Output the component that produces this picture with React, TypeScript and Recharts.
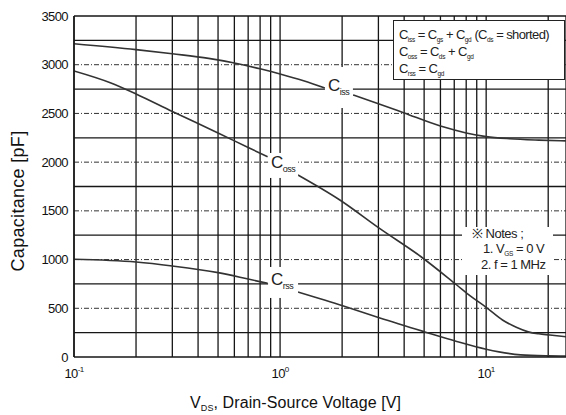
import React from 'react'
import {
  LineChart,
  Line,
  XAxis,
  YAxis,
  CartesianGrid,
  ReferenceLine,
  ReferenceDot,
} from 'recharts'

// V_DS [V] and capacitance [pF] (null = gap under the curve label)
const cissV = [0.1, 0.2, 0.3, 0.45, 0.6, 0.8, 1.0, 1.3, 1.65, 1.95, 2.26, 3.0, 4.0, 6.0, 8.0, 10, 13, 18, 24.4]
const cissC = [3215, 3155, 3112, 3065, 3018, 2958, 2905, 2835, 2760, null, 2690, 2600, 2505, 2370, 2300, 2262, 2240, 2226, 2218]

const cossV = [0.1, 0.15, 0.2, 0.3, 0.5, 0.7, 0.87, 1.05, 1.22, 1.95, 3.05, 4.83, 7.2, 8.4, 10, 12, 14, 16, 18, 20.4, 24.4]
const cossC = [2936, 2815, 2700, 2520, 2300, 2150, 2056, null, 1868, 1611, 1317, 1029, 739, 625, 510, 380, 305, 258, 238, 226, 208]

const crssV = [0.1, 0.2, 0.3, 0.5, 0.7, 0.87, 1.05, 1.22, 2.03, 3.05, 5.0, 7.2, 10, 14.7, 20, 24.4]
const crssC = [1003, 975, 934, 866, 800, 756, null, 667, 523, 400, 260, 160, 80, 22, 12, 10]

const xTicks = [
  0.1, 0.2, 0.3, 0.4, 0.5, 0.6, 0.7, 0.8, 0.9,
  1, 2, 3, 4, 5, 6, 7, 8, 9,
  10, 20,
]
const xDecades: Record<number, string> = { 0.1: '-1', 1: '0', 10: '1' }
const yMajor = [0, 500, 1000, 1500, 2000, 2500, 3000, 3500]
const yMinor = [250, 750, 1250, 1750, 2250, 2750, 3250]

const toPoints = (v: number[], c: (number | null)[]) => v.map((x, i) => ({ v: x, c: c[i] }))

// curve name labels, anchored in data space
const curveLabels = [
  { main: 'C', sub: 'iss', v: 1.93, c: 2766, w: 28, h: 41 },
  { main: 'C', sub: 'oss', v: 1.034, c: 1966, w: 30, h: 25 },
  { main: 'C', sub: 'rss', v: 1.034, c: 765, w: 30, h: 31 },
]

const FONT = '"Liberation Sans", Arial, sans-serif'
const GRID = '#161616'
const CURVE = '#333'

function XTick({ x, y, payload }: any) {
  const exp = xDecades[payload.value]
  if (exp === undefined) return null
  return (
    <text x={x} y={y + 21} textAnchor="middle" fontSize={13} fontFamily={FONT} fill="#111" letterSpacing={-0.6}>
      10
      <tspan dy={-6} fontSize={8}>{exp}</tspan>
    </text>
  )
}

function CurveLabel({ cx, cy, spec }: any) {
  if (cx == null || cy == null) return null
  return (
    <g>
      <rect x={cx - spec.w / 2} y={cy - spec.h / 2} width={spec.w} height={spec.h} fill="#fff" />
      <text x={cx - spec.w / 2 + 3} y={cy + 3} fontSize={17} fontFamily={FONT} fill="#222" letterSpacing={-0.5}>
        {spec.main}
        <tspan dy={4} fontSize={9}>{spec.sub}</tspan>
      </text>
    </g>
  )
}

const sub: React.CSSProperties = { fontSize: 6.5, position: 'relative', top: 3, letterSpacing: -0.3 }

export default function App() {
  return (
    <div style={{ position: 'absolute', left: 0, top: 0, width: 566, height: 415, background: '#fff', fontFamily: FONT }}>
      <LineChart width={566} height={415} margin={{ top: 16, right: 0, left: 0, bottom: 0 }}>
        <CartesianGrid horizontal={false} stroke={GRID} strokeWidth={1.3} />
        <XAxis
          dataKey="v"
          type="number"
          scale="log"
          domain={[0.1, 24.4]}
          allowDataOverflow
          ticks={xTicks}
          interval={0}
          height={58}
          tickLine={false}
          tickSize={0}
          tickMargin={0}
          tick={<XTick />}
          axisLine={{ stroke: GRID, strokeWidth: 1.5 }}
        />
        <YAxis
          type="number"
          domain={[0, 3500]}
          ticks={yMajor}
          interval={0}
          width={74}
          tickLine={false}
          tickSize={0}
          tickMargin={6}
          tick={{ fontSize: 13, fill: '#111', fontFamily: FONT, letterSpacing: -0.6 }}
          axisLine={{ stroke: GRID, strokeWidth: 1.5 }}
        />
        {yMajor.slice(1, -1).map((y) => (
          <ReferenceLine key={'M' + y} y={y} stroke="#333" strokeWidth={1} strokeDasharray="5 2 1 2" />
        ))}
        {yMinor.map((y) => (
          <ReferenceLine key={'m' + y} y={y} stroke={GRID} strokeWidth={1.3} />
        ))}
        <ReferenceLine y={3500} stroke={GRID} strokeWidth={1.5} />
        <Line data={toPoints(cissV, cissC)} dataKey="c" type="monotone" stroke={CURVE} strokeWidth={1.6} dot={false} isAnimationActive={false} />
        <Line data={toPoints(cossV, cossC)} dataKey="c" type="monotone" stroke={CURVE} strokeWidth={1.6} dot={false} isAnimationActive={false} />
        <Line data={toPoints(crssV, crssC)} dataKey="c" type="monotone" stroke={CURVE} strokeWidth={1.6} dot={false} isAnimationActive={false} />
        {curveLabels.map((l) => (
          <ReferenceDot key={l.sub} x={l.v} y={l.c} r={0} ifOverflow="visible" shape={(p: any) => <CurveLabel {...p} spec={l} />} />
        ))}
      </LineChart>

      {/* formula box */}
      <div style={{ position: 'absolute', left: 393, top: 20, width: 172, height: 60, border: '1px solid #222', background: '#fff', fontSize: 13, lineHeight: '15px', color: '#222', letterSpacing: -0.6, paddingLeft: 5, paddingTop: 6, boxSizing: 'border-box', whiteSpace: 'nowrap' }}>
        <div>C<span style={sub}>iss</span> = C<span style={sub}>gs</span> + C<span style={sub}>gd</span> (C<span style={sub}>ds</span> = shorted)</div>
        <div>C<span style={sub}>oss</span> = C<span style={sub}>ds</span> + C<span style={sub}>gd</span></div>
        <div>C<span style={sub}>rss</span> = C<span style={sub}>gd</span></div>
      </div>

      {/* notes box */}
      <div style={{ position: 'absolute', left: 462, top: 227, width: 91, height: 48, background: '#fff', fontSize: 13, lineHeight: '14.5px', color: '#222', letterSpacing: -0.5, whiteSpace: 'nowrap' }}>
        <div style={{ paddingLeft: 10 }}>※ Notes ;</div>
        <div style={{ paddingLeft: 21 }}>1. V<span style={sub}>GS</span> = 0 V</div>
        <div style={{ paddingLeft: 19 }}>2. f = 1 MHz</div>
      </div>

      {/* axis titles */}
      <div style={{ position: 'absolute', left: 190, top: 394, fontSize: 16, lineHeight: '18px', color: '#111', letterSpacing: 0.1, whiteSpace: 'nowrap' }}>
        V<span style={{ fontSize: 9, position: 'relative', top: 3 }}>DS</span>, Drain-Source Voltage [V]
      </div>
      <div style={{ position: 'absolute', left: 18, top: 201, fontSize: 18, color: '#111', letterSpacing: 0.3, whiteSpace: 'nowrap', transform: 'translate(-50%, -50%) rotate(-90deg)' }}>
        Capacitance [pF]
      </div>
    </div>
  )
}
